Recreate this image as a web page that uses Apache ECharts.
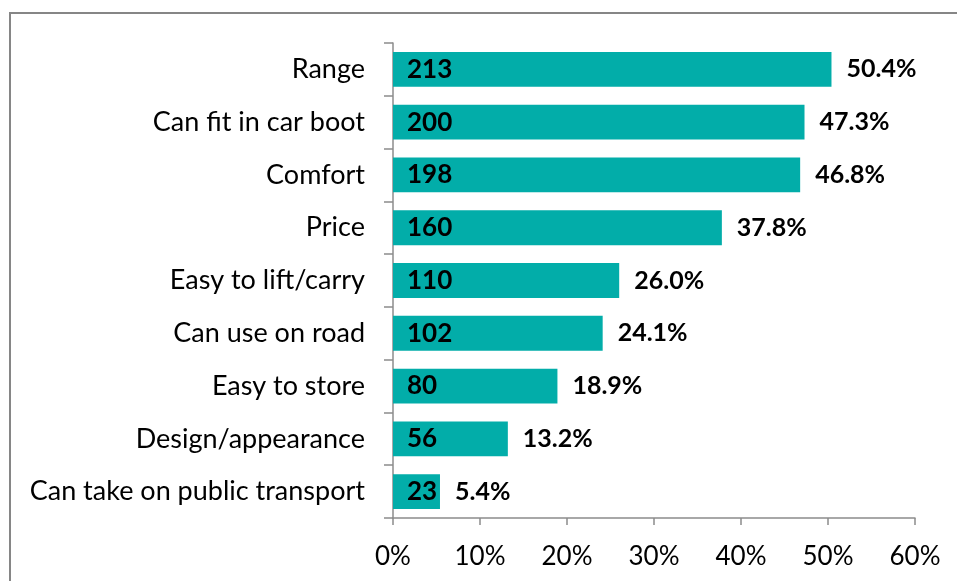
<!DOCTYPE html>
<html>
<head>
<meta charset="utf-8">
<script src="https://cdn.jsdelivr.net/npm/echarts@6/dist/echarts.min.js"></script>
<style>
  html, body { margin: 0; padding: 0; background: #fff; }
  #chart { width: 957px; height: 581px; }
</style>
</head>
<body>
<div id="chart"></div>
<script>
const categories = ['Range', 'Can fit in car boot', 'Comfort', 'Price', 'Easy to lift/carry',
  'Can use on road', 'Easy to store', 'Design/appearance', 'Can take on public transport'];
const counts = [213, 200, 198, 160, 110, 102, 80, 56, 23];
const percents = [50.4, 47.3, 46.8, 37.8, 26.0, 24.1, 18.9, 13.2, 5.4];
const xTicks = [0, 10, 20, 30, 40, 50, 60];

const font = 'Lato, sans-serif';
const axisGray = '#8c8c8c';

const chart = echarts.init(document.getElementById('chart'));
chart.setOption({
  animation: false,
  graphic: [{
    type: 'rect',
    shape: { x: 10, y: 13, width: 1200, height: 800 },
    style: { fill: 'none', stroke: '#868686', lineWidth: 2 }
  }],
  grid: { left: 393, right: 42, top: 43, bottom: 63 },
  xAxis: {
    type: 'value', min: xTicks[0], max: xTicks[xTicks.length - 1], interval: 10,
    axisLine: { show: true, lineStyle: { color: axisGray, width: 1.5 } },
    axisTick: { show: true, length: 7, lineStyle: { color: axisGray, width: 1.5 } },
    splitLine: { show: false },
    axisLabel: { color: '#000', fontSize: 26, fontFamily: font, margin: 26, formatter: '{value}%' }
  },
  yAxis: {
    type: 'category', data: categories, inverse: true,
    axisLine: { show: true, lineStyle: { color: axisGray, width: 1.5 } },
    axisTick: { show: true, length: 9, lineStyle: { color: axisGray, width: 1.5 } },
    axisLabel: { color: '#000', fontSize: 27, fontFamily: font, margin: 28 }
  },
  series: [{
    type: 'bar',
    data: percents,
    barCategoryGap: '34%',
    itemStyle: { color: '#02ada9' },
    label: {
      show: true, position: 'right', distance: 15,
      color: '#000', fontSize: 25, fontWeight: 'bold', fontFamily: font,
      formatter: p => p.value.toFixed(1) + '%'
    }
  }, {
    type: 'bar',
    data: percents,
    barGap: '-100%',
    barCategoryGap: '34%',
    itemStyle: { color: 'transparent' },
    label: {
      show: true, position: 'insideLeft', distance: 14,
      color: '#000', fontSize: 26, fontWeight: 'bold', fontFamily: font,
      formatter: p => String(counts[p.dataIndex])
    }
  }]
});
</script>
</body>
</html>
